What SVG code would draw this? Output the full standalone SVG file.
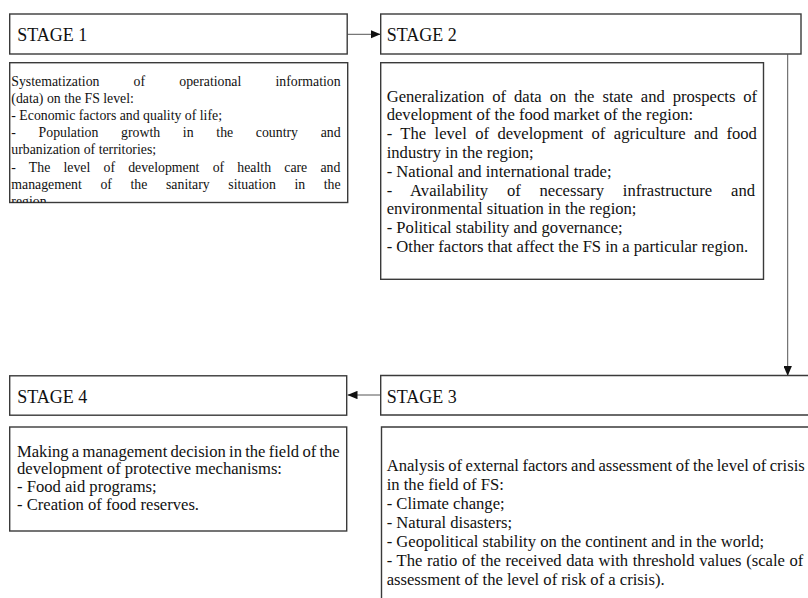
<svg xmlns="http://www.w3.org/2000/svg" width="808" height="598" viewBox="0 0 808 598">
<style>
.box{fill:#fff;stroke:#3a3a3a;stroke-width:1.4}
.open{fill:none;stroke:#3a3a3a;stroke-width:1.4}
.hd{font-family:"Liberation Serif","Times New Roman",serif;font-size:18px;fill:#111}
.t1{font-family:"Liberation Serif","Times New Roman",serif;font-size:13.8px;fill:#111}
.t2{font-family:"Liberation Serif","Times New Roman",serif;font-size:16.6px;fill:#111}
.conn{stroke:#555;stroke-width:1;fill:none}
</style>
<defs>
<marker id="ah" viewBox="0 0 10 8.4" refX="10" refY="4.2" markerWidth="10" markerHeight="8.4" markerUnits="userSpaceOnUse" orient="auto"><path d="M0,0 L10,4.2 L0,8.4 Z" fill="#111"/></marker>
<clipPath id="c1"><rect x="9.7" y="62.7" width="338" height="139.8"/></clipPath>
</defs>
<rect width="808" height="598" fill="#fff"/>

<g id="connectors">
<path class="conn" d="M347.4,34.3 H380.5" marker-end="url(#ah)"/>
<path class="conn" d="M787.7,54.3 V376" marker-end="url(#ah)"/>
<path class="conn" d="M380.7,395 H347.5" marker-end="url(#ah)"/>
</g>

<g id="stage1">
<rect class="box" x="9.7" y="14" width="337.5" height="40"/>
<text class="hd" x="17.3" y="40.7">STAGE 1</text>
<rect class="box" x="9.7" y="62.7" width="338" height="139.8"/>
<g clip-path="url(#c1)">
<text class="t1" x="11.3" y="85.5" word-spacing="30.72">Systematization of operational information</text>
<text class="t1" x="11.3" y="102.7">(data) on the FS level:</text>
<text class="t1" x="11.3" y="119.9">- Economic factors and quality of life;</text>
<text class="t1" x="11.3" y="137.1" word-spacing="19.25">- Population growth in the country and</text>
<text class="t1" x="11.3" y="154.3">urbanization of territories;</text>
<text class="t1" x="11.3" y="171.5" word-spacing="9.75">- The level of development of health care and</text>
<text class="t1" x="11.3" y="188.7" word-spacing="15.17">management of the sanitary situation in the</text>
<text class="t1" x="11.3" y="205.9">region.</text>
</g>
</g>

<g id="stage2">
<rect class="box" x="380.7" y="14" width="420.3" height="40"/>
<text class="hd" x="386.7" y="40.7">STAGE 2</text>
<rect class="box" x="380.7" y="62.7" width="382.8" height="216.6"/>
<text class="t2" x="386.7" y="101.5" word-spacing="3.8">Generalization of data on the state and prospects of</text>
<text class="t2" x="386.7" y="120.3">development of the food market of the region:</text>
<text class="t2" x="386.7" y="139.1" word-spacing="4.26">- The level of development of agriculture and food</text>
<text class="t2" x="386.7" y="157.9">industry in the region;</text>
<text class="t2" x="386.7" y="176.7">- National and international trade;</text>
<text class="t2" x="386.7" y="195.5" word-spacing="14.65">- Availability of necessary infrastructure and</text>
<text class="t2" x="386.7" y="214.3">environmental situation in the region;</text>
<text class="t2" x="386.7" y="233.1">- Political stability and governance;</text>
<text class="t2" x="386.7" y="251.9">- Other factors that affect the FS in a particular region.</text>
</g>

<g id="stage3">
<path class="open" d="M808,375.5 H380.7 V415 H808"/>
<text class="hd" x="386.7" y="402.7">STAGE 3</text>
<path class="open" d="M808,427 H381.5 V598"/>
<text class="t2" x="386.7" y="471" word-spacing="-0.68">Analysis of external factors and assessment of the level of crisis</text>
<text class="t2" x="386.7" y="490">in the field of FS:</text>
<text class="t2" x="386.7" y="509">- Climate change;</text>
<text class="t2" x="386.7" y="528">- Natural disasters;</text>
<text class="t2" x="386.7" y="547">- Geopolitical stability on the continent and in the world;</text>
<text class="t2" x="386.7" y="566" word-spacing="0.5">- The ratio of the received data with threshold values (scale of</text>
<text class="t2" x="386.7" y="585">assessment of the level of risk of a crisis).</text>
</g>

<g id="stage4">
<rect class="box" x="9.7" y="375.8" width="337" height="39.4"/>
<text class="hd" x="17.3" y="403">STAGE 4</text>
<rect class="box" x="9.7" y="427" width="337" height="104"/>
<text class="t2" x="17" y="456.5" word-spacing="-0.9">Making a management decision in the field of the</text>
<text class="t2" x="17" y="474.3">development of protective mechanisms:</text>
<text class="t2" x="17" y="492.1">- Food aid programs;</text>
<text class="t2" x="17" y="509.9">- Creation of food reserves.</text>
</g>
</svg>
